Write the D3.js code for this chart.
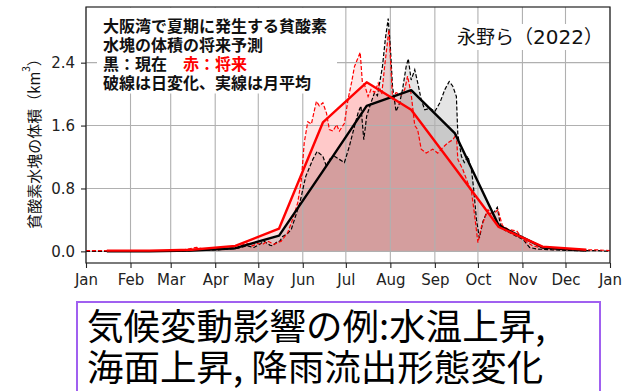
<!DOCTYPE html>
<html>
<head>
<meta charset="utf-8">
<script src="https://cdn.jsdelivr.net/npm/d3@7"></script>
<style>
  body { margin: 0; background: #fff; }
  svg { display: block; }
</style>
</head>
<body>
<svg id="chart" width="641" height="391"></svg>
<script>
// Month axis (day of year, non-leap year)
const monthLabels = ["Jan","Feb","Mar","Apr","May","Jun","Jul","Aug","Sep","Oct","Nov","Dec","Jan"];
const monthStartDays = [0,31,59,90,120,151,181,212,243,273,304,334,365];
const monthMidDays = [14.5,44,73.5,104,134.5,165,195.5,226.5,257,287.5,318,348.5];
const yTickValues = [0, 0.8, 1.6, 2.4];

// Monthly mean hypoxic water volume (km^3)
const presentMonthly = [0.00,0.00,0.01,0.04,0.20,1.02,1.85,2.05,1.50,0.33,0.05,0.01];
const futureMonthly  = [0.01,0.01,0.02,0.07,0.29,1.64,2.15,1.80,1.06,0.31,0.06,0.02];

// Daily hypoxic water volume, present climate (black)
const presentDays = [0,14,30,45,60,72,82,92,100,106,112,117,121,124,128,130,133,135,137,140,143,146,149,153,158,161,165,167.5,169.5,173,176.5,180,183.5,187,189.5,191.5,193.5,195.5,198.5,201,203,204.5,206.5,208.5,210.5,212,213.5,216,218.5,220.5,223,224.5,226.5,229,231,233.5,236,239.5,243,246.5,250,253,255.5,258,259,261.5,263.5,266,268.5,270,272,274,276.5,279,283,286.5,288.5,291.5,295,300,304.5,309,314,325,340,355,365];
const presentDaily = [0.00,0.00,0.00,0.00,0.00,0.01,0.02,0.02,0.03,0.04,0.07,0.05,0.09,0.13,0.08,0.07,0.12,0.13,0.19,0.22,0.28,0.45,0.62,0.95,1.17,1.27,1.21,1.08,1.17,1.21,1.17,1.13,1.34,1.59,1.76,1.85,1.42,1.72,1.89,2.02,1.98,2.14,2.35,2.70,2.96,2.60,2.10,1.78,1.89,2.06,2.35,2.45,2.18,2.31,2.15,1.93,1.80,1.82,1.78,1.89,2.06,2.16,2.10,1.97,1.49,1.21,1.13,1.21,1.04,0.80,0.40,0.17,0.38,0.49,0.47,0.56,0.35,0.27,0.24,0.19,0.15,0.05,0.03,0.02,0.01,0.01,0.00];

// Daily hypoxic water volume, future climate (red)
const futureDays = [0,10,25,45,65,77,82,92,100,106,111.5,116,119.5,123,126.5,131,136,140.5,144,147.5,150,152,154.5,157,160.5,162.5,165,167.5,169.5,172,174.5,176.5,180,182.5,185,187,189,191,192.5,194,196.5,198.5,201,203.5,206,208,211,212.5,213.5,216,219.5,222,224,226.5,229,231,233.5,237,241.5,245,248.5,252,255.5,258,259,262.5,266,268.5,270.5,273,275.5,280,283.5,287,290,294,300,304.5,311,316,325,340,355,365];
const futureDaily = [0.01,0.01,0.00,0.01,0.01,0.05,0.03,0.03,0.04,0.05,0.11,0.07,0.10,0.09,0.13,0.09,0.13,0.24,0.41,0.62,0.91,1.38,1.65,1.62,1.91,1.85,1.89,1.76,1.55,1.53,1.61,1.53,1.63,1.93,2.15,2.35,2.44,2.53,2.15,2.12,1.97,2.06,2.02,2.14,2.00,2.35,2.82,2.30,1.95,2.02,1.99,2.06,2.23,2.00,1.60,1.55,1.30,1.25,1.30,1.25,1.32,1.38,1.42,1.49,1.17,1.04,0.87,0.76,0.49,0.11,0.32,0.53,0.47,0.53,0.33,0.28,0.26,0.15,0.07,0.05,0.03,0.02,0.02,0.01];

const noteLines = ["大阪湾で夏期に発生する貧酸素", "水塊の体積の将来予測"];
const legendBlack = "黒：現在";
const legendRed = "赤：将来";
const noteLast = "破線は日変化、実線は月平均";
const sourceName = "永野ら（";
const sourceYear = "2022";
const yLabel = "貧酸素水塊の体積（km";
const captionLines = ["気候変動影響の例:水温上昇,", "海面上昇, 降雨流出形態変化"];

const CJK = "'Noto Sans CJK JP', 'Noto Sans CJK SC', sans-serif";
const LATIN = "'DejaVu Sans', sans-serif";

const svg = d3.select("#chart");
const plot = { left: 86, right: 610, top: 7, bottom: 263 };

const x = d3.scaleLinear().domain([0, 365]).range([plot.left, plot.right]);
const yMax = d3.max(presentDaily.concat(futureDaily));
const pad = 0.05 * yMax;
const y = d3.scaleLinear().domain([-pad, yMax + pad]).range([plot.bottom, plot.top]);

const toPts = (days, vals) => days.map((d, i) => [d, vals[i]]);
const presentDailyPts = toPts(presentDays, presentDaily);
const futureDailyPts = toPts(futureDays, futureDaily);
const presentMonthlyPts = toPts(monthMidDays, presentMonthly);
const futureMonthlyPts = toPts(monthMidDays, futureMonthly);

svg.append("defs").append("clipPath").attr("id", "plotClip")
  .append("rect")
  .attr("x", plot.left).attr("y", plot.top)
  .attr("width", plot.right - plot.left).attr("height", plot.bottom - plot.top);

const area = d3.area().x(d => x(d[0])).y0(y(0)).y1(d => y(d[1]));
const line = d3.line().x(d => x(d[0])).y(d => y(d[1]));

const g = svg.append("g").attr("clip-path", "url(#plotClip)");

// Filled areas under each series
g.append("path").datum(presentDailyPts).attr("d", area).attr("fill", "#000").attr("fill-opacity", 0.1);
g.append("path").datum(presentMonthlyPts).attr("d", area).attr("fill", "#000").attr("fill-opacity", 0.12);
g.append("path").datum(futureDailyPts).attr("d", area).attr("fill", "#ff0000").attr("fill-opacity", 0.1);
g.append("path").datum(futureMonthlyPts).attr("d", area).attr("fill", "#ff0000").attr("fill-opacity", 0.12);

// Grid
const grid = svg.append("g").attr("stroke", "#b0b0b0").attr("stroke-width", 1.1);
grid.selectAll("line.v").data(monthStartDays).join("line")
  .attr("x1", d => x(d)).attr("x2", d => x(d))
  .attr("y1", plot.top).attr("y2", plot.bottom);
grid.selectAll("line.h").data(yTickValues).join("line")
  .attr("x1", plot.left).attr("x2", plot.right)
  .attr("y1", d => y(d)).attr("y2", d => y(d));

// Text backgrounds
svg.append("rect").attr("x", 97).attr("y", plot.top + 0.5).attr("width", 240).attr("height", 86).attr("fill", "#fff");
svg.append("rect").attr("x", 455).attr("y", 24).attr("width", 151).attr("height", 26).attr("fill", "#fff");

// Lines
const lg = svg.append("g").attr("clip-path", "url(#plotClip)").attr("fill", "none");
lg.append("path").datum(presentDailyPts).attr("d", line)
  .attr("stroke", "#000").attr("stroke-width", 1.2).attr("stroke-dasharray", "4,2");
lg.append("path").datum(futureDailyPts).attr("d", line)
  .attr("stroke", "#ff0000").attr("stroke-width", 1.2).attr("stroke-dasharray", "4,2");
lg.append("path").datum(presentMonthlyPts).attr("d", line)
  .attr("stroke", "#000").attr("stroke-width", 2.4).attr("stroke-linejoin", "round");
lg.append("path").datum(futureMonthlyPts).attr("d", line)
  .attr("stroke", "#ff0000").attr("stroke-width", 2.4).attr("stroke-linejoin", "round");

// Axes
const xAxis = d3.axisBottom(x).tickValues(monthStartDays)
  .tickFormat((d, i) => monthLabels[i]).tickSize(5).tickPadding(6);
const yAxis = d3.axisLeft(y).tickValues(yTickValues)
  .tickFormat(d3.format(".1f")).tickSize(5).tickPadding(6);

const gx = svg.append("g").attr("transform", `translate(0,${plot.bottom})`).call(xAxis);
const gy = svg.append("g").attr("transform", `translate(${plot.left},0)`).call(yAxis);
[gx, gy].forEach(a => {
  a.select(".domain").remove();
  a.selectAll(".tick line").attr("stroke", "#222").attr("stroke-width", 1.1);
  a.selectAll(".tick text").attr("fill", "#222").style("font-family", LATIN).style("font-size", "15px");
});

// Frame
svg.append("rect")
  .attr("x", plot.left).attr("y", plot.top)
  .attr("width", plot.right - plot.left).attr("height", plot.bottom - plot.top)
  .attr("fill", "none").attr("stroke", "#222").attr("stroke-width", 1.2);

// Y-axis title
const yt = svg.append("text")
  .attr("transform", "translate(33,140) rotate(-90)")
  .attr("text-anchor", "middle").attr("dominant-baseline", "central")
  .style("font-family", CJK).style("font-size", "15px").attr("fill", "#111");
yt.append("tspan").text(yLabel);
yt.append("tspan").attr("baseline-shift", "super").style("font-size", "10px").text("3");
yt.append("tspan").text("）");

// Annotation
const note = svg.append("g").style("font-family", CJK).style("font-size", "16px").style("font-weight", "bold").attr("fill", "#111");
noteLines.forEach((t, i) => note.append("text").attr("x", 103).attr("y", 31.5 + i * 19).text(t));
const leg = note.append("text").attr("x", 103).attr("y", 31.5 + 2 * 19);
leg.append("tspan").text(legendBlack + "　");
leg.append("tspan").attr("fill", "#ff0000").text(legendRed);
note.append("text").attr("x", 103).attr("y", 31.5 + 3 * 19).text(noteLast);

const src = svg.append("text").attr("x", 457).attr("y", 44)
  .style("font-family", CJK).style("font-size", "19px").attr("fill", "#111");
src.append("tspan").text(sourceName);
src.append("tspan").style("font-family", LATIN).style("font-size", "20px").text(sourceYear);
src.append("tspan").text("）");

// Caption box
svg.append("rect").attr("x", 77).attr("y", 302).attr("width", 523).attr("height", 110)
  .attr("fill", "#fff").attr("stroke", "#a060f0").attr("stroke-width", 2);
const cap = svg.append("g").style("font-family", CJK).style("font-size", "36.5px").attr("fill", "#000");
captionLines.forEach((t, i) => cap.append("text").attr("x", 87).attr("y", 340 + i * 41).text(t));
</script>
</body>
</html>
